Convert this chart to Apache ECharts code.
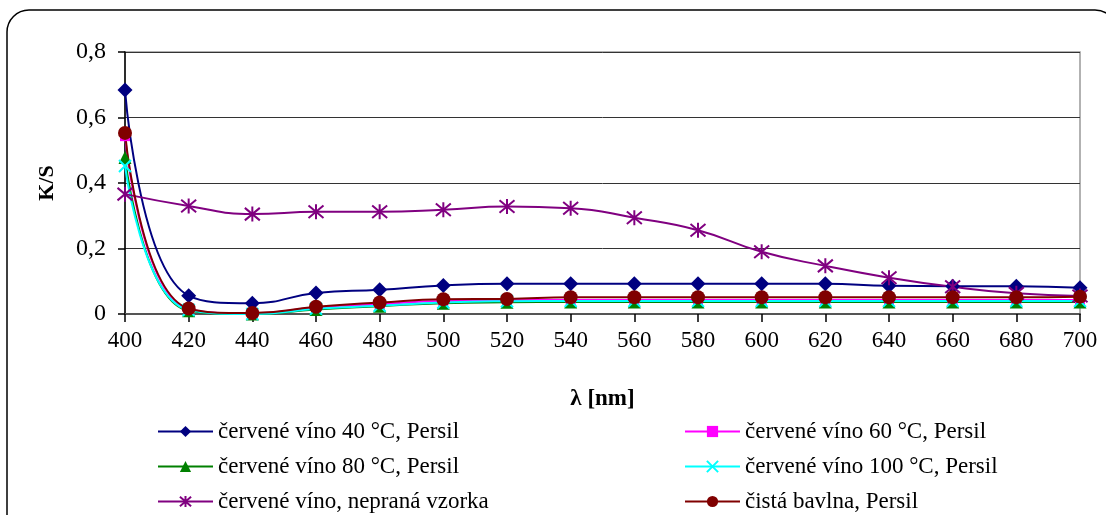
<!DOCTYPE html>
<html>
<head>
<meta charset="utf-8">
<script src="https://cdn.jsdelivr.net/npm/echarts@6/dist/echarts.min.js"></script>
<style>
  html, body { margin: 0; padding: 0; background: #fff; }
  #chart { width: 1106px; height: 515px; }
</style>
</head>
<body>
<div id="chart"></div>
<script>
// wavelength categories (nm)
const wavelengths = ['400','420','440','460','480','500','520','540','560','580','600','620','640','660','680','700'];
const yTicks = [0, 0.2, 0.4, 0.6, 0.8];

// K/S values per sample
const wine40 = [0.684,0.056,0.033,0.064,0.074,0.087,0.092,0.092,0.092,0.092,0.092,0.092,0.086,0.085,0.085,0.080];
const wine60 = [0.543,0.015,0.002,0.020,0.030,0.040,0.042,0.043,0.043,0.043,0.043,0.043,0.043,0.043,0.043,0.043];
const wine80 = [0.478,0.010,0.000,0.014,0.024,0.033,0.036,0.037,0.037,0.037,0.037,0.037,0.037,0.037,0.037,0.037];
const wine100 = [0.452,0.012,0.000,0.016,0.025,0.035,0.039,0.040,0.040,0.040,0.040,0.040,0.040,0.040,0.040,0.040];
const wineUnwashed = [0.366,0.330,0.305,0.312,0.312,0.318,0.328,0.323,0.294,0.256,0.190,0.147,0.111,0.083,0.063,0.055];
const cottonClean = [0.553,0.017,0.003,0.022,0.035,0.045,0.046,0.051,0.051,0.051,0.051,0.051,0.051,0.051,0.051,0.053];

const names = [
  'červené víno 40 °C, Persil',
  'červené víno 60 °C, Persil',
  'červené víno 80 °C, Persil',
  'červené víno 100 °C, Persil',
  'červené víno, nepraná vzorka',
  'čistá bavlna, Persil'
];

const FONT = '"Liberation Serif", "Times New Roman", serif';
const crossPath = 'path://M0 0L10 10M10 0L0 10';
const starPath = 'path://M0 0L10 10M10 0L0 10M5 -1L5 11';

function lineSeries(name, data, color, symbol, size, strokeOnly) {
  return {
    name, type: 'line', data,
    smooth: 0.5,
    clip: false,
    symbol, symbolSize: size,
    showAllSymbol: true,
    lineStyle: { color, width: 2 },
    itemStyle: strokeOnly
      ? { color: 'rgba(0,0,0,0)', borderColor: color, borderWidth: 2 }
      : { color, borderWidth: 0 },
    emphasis: { disabled: true },
    z: 3
  };
}

// one legend entry per slot: two columns, three rows
const legendText = { fontFamily: FONT, fontSize: 23, color: '#000' };
const colLeft = [152, 679];
const rowTop = [415, 450, 485];
const legends = names.map((n, i) => ({
  orient: 'horizontal',
  left: colLeft[i % 2],
  top: rowTop[Math.floor(i / 2)],
  itemWidth: 55, itemHeight: 14,
  data: [n],
  textStyle: legendText,
  selectedMode: false
}));

const chart = echarts.init(document.getElementById('chart'), null, { renderer: 'canvas' });

chart.setOption({
  animation: false,
  backgroundColor: '#fff',
  graphic: [{
    type: 'rect',
    shape: { x: 7, y: 10, width: 1110, height: 560, r: 22 },
    style: { fill: 'none', stroke: '#000', lineWidth: 1.5 },
    silent: true, z: 0
  }],
  grid: {
    left: 125, right: 26, top: 52, bottom: 201,
    show: true, borderColor: '#999', borderWidth: 1.5, backgroundColor: 'transparent'
  },
  legend: legends,
  xAxis: {
    type: 'category',
    data: wavelengths,
    boundaryGap: false,
    name: 'λ [nm]',
    nameLocation: 'middle',
    nameGap: 74,
    nameTextStyle: { fontFamily: FONT, fontSize: 23, fontWeight: 'bold', color: '#000' },
    axisLine: { onZero: false, lineStyle: { color: '#555', width: 2 } },
    axisTick: { show: true, alignWithLabel: true, length: 8, lineStyle: { color: '#000', width: 1.5 } },
    axisLabel: { fontFamily: FONT, fontSize: 23, color: '#000', margin: 15, interval: 0 },
    splitLine: { show: false }
  },
  yAxis: {
    type: 'value',
    min: yTicks[0], max: yTicks[yTicks.length - 1], interval: 0.2,
    name: 'K/S',
    nameLocation: 'middle',
    nameGap: 67,
    nameRotate: 90,
    nameTextStyle: { fontFamily: FONT, fontSize: 22, fontWeight: 'bold', color: '#000' },
    axisLine: { show: true, lineStyle: { color: '#000', width: 1.5 } },
    axisTick: { show: true, length: 7, lineStyle: { color: '#000', width: 1.5 } },
    axisLabel: {
      fontFamily: FONT, fontSize: 24, color: '#000', margin: 19,
      formatter: v => (v === 0 ? '0' : v.toFixed(1).replace('.', ','))
    },
    splitLine: { show: true, lineStyle: { color: '#333', width: 1 } }
  },
  series: [
    lineSeries(names[0], wine40, '#000080', 'diamond', 15),
    lineSeries(names[1], wine60, '#ff00ff', 'rect', 10),
    lineSeries(names[2], wine80, '#008000', 'triangle', 13),
    lineSeries(names[3], wine100, '#00ffff', crossPath, 12, true),
    lineSeries(names[4], wineUnwashed, '#800080', starPath, 15, true),
    lineSeries(names[5], cottonClean, '#800000', 'circle', 14)
  ]
});
</script>
</body>
</html>
